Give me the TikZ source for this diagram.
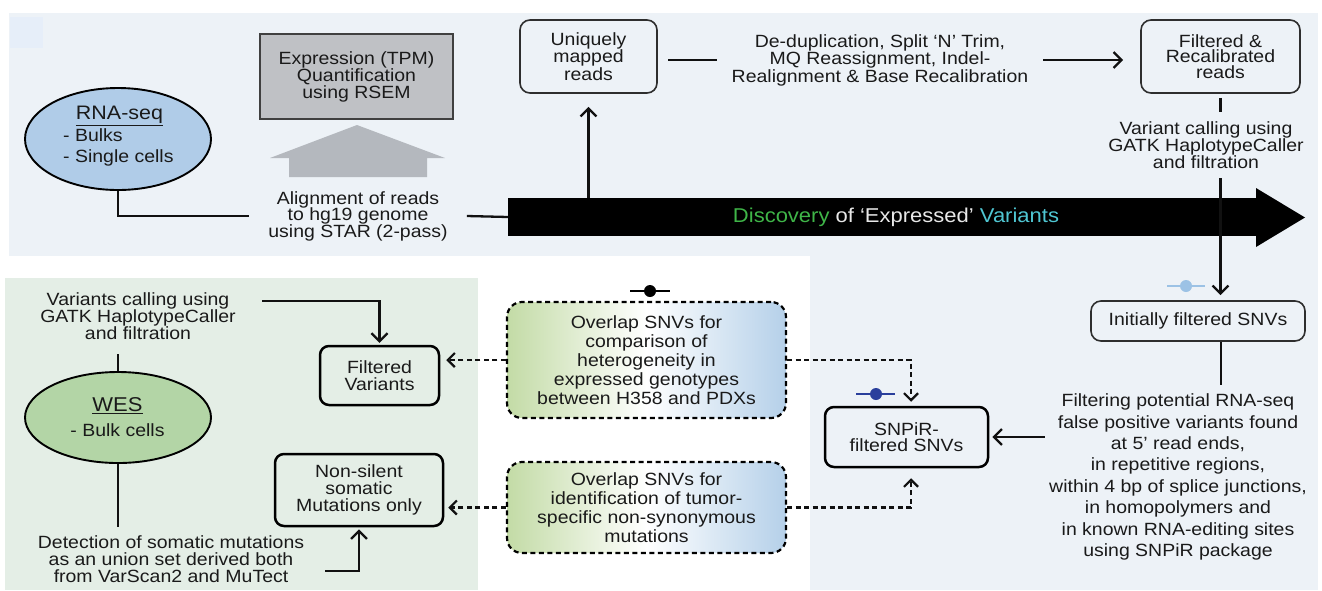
\documentclass[tikz,border=0pt]{standalone}
\usepackage{fontspec}
\setmainfont{Liberation Sans}[FakeStretch=1.1]
\usetikzlibrary{arrows.meta,shapes.geometric}
\definecolor{txt}{HTML}{1A1A1A}
\definecolor{bord}{HTML}{2E2E2E}
\definecolor{lnc}{HTML}{111111}
\definecolor{rnaf}{HTML}{B0CCE8}
\definecolor{wesf}{HTML}{B3D5A6}
\definecolor{gboxf}{HTML}{BFC1C5}
\definecolor{gbord}{HTML}{404040}
\definecolor{garr}{HTML}{B4B8BE}
\definecolor{bgb}{HTML}{EDF2F7}
\definecolor{grp}{HTML}{E4EEE6}
\definecolor{sqc}{HTML}{E6EEF9}
\definecolor{mlight}{HTML}{9CC2E5}
\definecolor{mdark}{HTML}{2A3F9C}
\definecolor{dgreen}{HTML}{3FB548}
\definecolor{dwhite}{HTML}{E8E8E8}
\definecolor{dcyan}{HTML}{4FC6D2}
\definecolor{ovgreen}{HTML}{C3DBA6}
\definecolor{ovblue}{HTML}{B5D0E9}
\newcommand\fz[2]{\fontsize{#1}{#2}\selectfont}
\begin{document}
\begin{tikzpicture}[x=1pt,y=-1pt,
  every node/.style={inner sep=0pt, text=txt},
  tx/.style={align=center, font=\fz{17.7}{17}},
  rb/.style={draw=bord, line width=1.6pt, rounded corners=10pt, align=center},
  tb/.style={draw=black, line width=2.5pt, rounded corners=9pt, align=center},
  ln/.style={line width=2.3pt, draw=lnc},
  arr/.style={ln, -{Straight Barb[length=8pt,width=16pt,line width=2.3pt]}},
  dsh/.style={line width=2.2pt, draw=lnc, dash pattern=on 5pt off 3.5pt, -{Straight Barb[length=7pt,width=14pt,line width=2.2pt]}},
  ovbox/.style={draw=black, line width=2.2pt, dash pattern=on 5pt off 3.5pt, rounded corners=15pt, left color=ovgreen, right color=ovblue, middle color=white, align=center, font=\fz{17.7}{19}},
]
% backgrounds
\useasboundingbox (0,0) rectangle (1322,590);
\fill[bgb] (9,13) rectangle (1318,256);
\fill[bgb] (810,256) rectangle (1318,590);
\fill[grp] (5,278) rectangle (478,590);
\fill[sqc] (10,17) rectangle (43,48);

% RNA-seq
\node[ellipse, draw=black, line width=1.9pt, fill=rnaf, minimum width=186pt, minimum height=102pt] (rna) at (118,139) {};
\node[font=\fz{19.5}{20}] (rnah) at (119.5,116) {\underline{RNA-seq}};
\node[font=\fz{17.7}{21}, align=left, anchor=west] (rnal) at (63,147) {- Bulks\\- Single cells};

% expression box and gray arrow
\node[draw=gbord, line width=1.4pt, fill=gboxf, minimum width=193pt, minimum height=85pt, tx] (expr) at (356.5,76.5) {Expression (TPM)\\Quantification\\using RSEM};
\fill[garr] (289,177) -- (289,158) -- (270,158) -- (357,125) -- (445,158) -- (427,158) -- (427,177) -- cycle;

% alignment
\node[tx, font=\fz{17.7}{16.5}, inner xsep=19pt] (aln) at (358,216) {Alignment of reads\\to hg19 genome\\using STAR (2-pass)};
\draw[ln] (rna.south) |- (aln.west);

% big black arrow
\node[fill=black, minimum width=749pt, minimum height=38pt, anchor=west] (big) at (508,217) {};
\fill[black] (1256,188) -- (1305,217.5) -- (1256,247) -- cycle;
\draw[ln] (aln.east) -- (big.west);
\node[font=\fz{20}{20}] (disc) at (896,217) {\textcolor{dgreen}{Discovery} \textcolor{dwhite}{of ‘Expressed’} \textcolor{dcyan}{Variants}};

% top row
\node[rb, tx, font=\fz{17.7}{15.5}, minimum width=137pt, minimum height=73pt] (uniq) at (588.5,56.5) {Uniquely\\mapped\\reads};
\draw[arr, shorten >=13pt] (big.north -| uniq.south) -- (uniq.south);
\node[tx, font=\fz{17.7}{17.5}, inner xsep=15pt] (ded) at (880,60) {De-duplication, Split ‘N’ Trim,\\MQ Reassignment, Indel-\\Realignment \& Base Recalibration};
\node[rb, tx, font=\fz{17.7}{15.5}, minimum width=159pt, minimum height=73pt] (fr) at (1220.5,56.5) {Filtered \&\\Recalibrated\\reads};
\draw[ln, shorten >=10pt] (ded.west) -- (ded.west -| uniq.east);
\draw[arr, shorten >=17pt] (ded.east) -- (ded.east -| fr.west);

% variant calling (RNA)
\node[tx, minimum height=66pt] (vc) at (1206,145) {Variant calling using\\GATK HaplotypeCaller\\and filtration};
\node[rb, tx, minimum width=214pt, minimum height=40pt] (ifs) at (1198,321) {Initially filtered SNVs};
\draw[ln, shorten <=4pt] (fr.south) -- (fr.south |- vc.north);
\draw[arr, shorten >=5pt] (fr.south |- vc.south) -- (fr.south |- ifs.north);
\node[circle, fill=mlight, minimum size=12pt] (m1) at (1186,286) {};
\draw[mlight, line width=1.8pt] ([xshift=-19pt]m1.center) -- ([xshift=19pt]m1.center);

% SNPiR filtering
\node[tx, font=\fz{17.7}{21.4}, minimum width=266pt, minimum height=184pt] (filt) at (1178,477) {Filtering potential RNA-seq\\false positive variants found\\at 5’ read ends,\\in repetitive regions,\\within 4 bp of splice junctions,\\in homopolymers and\\in known RNA-editing sites\\using SNPiR package};
\coordinate (ifsb) at ([xshift=23pt]ifs.south);
\draw[ln] (ifsb) -- (ifsb |- filt.north);
\node[tb, tx, font=\fz{17.7}{16}, minimum width=163pt, minimum height=60pt] (snp) at (906.5,437) {SNPiR-\\filtered SNVs};
\draw[arr, shorten >=3pt] (filt.west |- snp.east) -- (snp.east);
\node[circle, fill=mdark, minimum size=12pt] (m2) at (876,394) {};
\draw[mdark, line width=1.8pt] ([xshift=-20pt]m2.center) -- ([xshift=19pt]m2.center);

% overlap boxes
\node[ovbox, minimum width=279pt, minimum height=116pt] (ov1) at (646.5,360) {Overlap SNVs for\\comparison of\\heterogeneity in\\expressed genotypes\\between H358 and PDXs};
\node[ovbox, minimum width=279pt, minimum height=91pt] (ov2) at (646.5,507.5) {Overlap SNVs for\\identification of tumor-\\specific non-synonymous\\mutations};
\node[circle, fill=black, minimum size=12pt] (m3) at (650,291) {};
\draw[black, line width=1.8pt] ([xshift=-20pt]m3.center) -- ([xshift=20pt]m3.center);

% WES side
\node[tb, tx, minimum width=119pt, minimum height=59pt] (fv) at (379.5,375.5) {Filtered\\Variants};
\node[tb, tx, minimum width=168pt, minimum height=72pt] (ns) at (359,490) {Non-silent\\somatic\\Mutations only};
\coordinate (snpt) at ([xshift=4.5pt]snp.north);
\coordinate (snpb) at ([xshift=4.5pt]snp.south);
\draw[dsh, shorten >=4pt] (ov1.east) -| (snpt);
\draw[dsh, shorten >=10pt] (ov2.east) -| (snpb);
\draw[dsh, shorten >=6pt] (ov1.west) -- (ov1.west -| fv.east);
\draw[dsh, shorten >=4pt] (ov2.west) -- (ov2.west -| ns.east);

\node[tx, minimum width=248pt, minimum height=76pt] (vcw) at (138,316) {Variants calling using\\GATK HaplotypeCaller\\and filtration};
\coordinate (vcwr) at ([yshift=15pt]vcw.east);
\draw[arr, shorten >=2pt] (vcwr) -| (fv.north);
\node[ellipse, draw=black, line width=1.9pt, fill=wesf, minimum width=186pt, minimum height=91pt] (wes) at (118,417.5) {};
\node[font=\fz{20}{20}] (wesh) at (117.5,406) {\underline{WES}};
\node[font=\fz{17.7}{18}] (wesl) at (117.5,430) {- Bulk cells};
\draw[ln] (wes.north) -- (wes.north |- vcw.south);
\node[tx, minimum width=308pt, minimum height=64pt] (det) at (171,559) {Detection of somatic mutations\\as an union set derived both\\from VarScan2 and MuTect};
\draw[ln] (wes.south) -- (wes.south |- det.north);
\coordinate (detr) at ([yshift=-12pt]det.east);
\draw[arr, shorten >=2pt] (detr) -| (ns.south);
\end{tikzpicture}
\end{document}
